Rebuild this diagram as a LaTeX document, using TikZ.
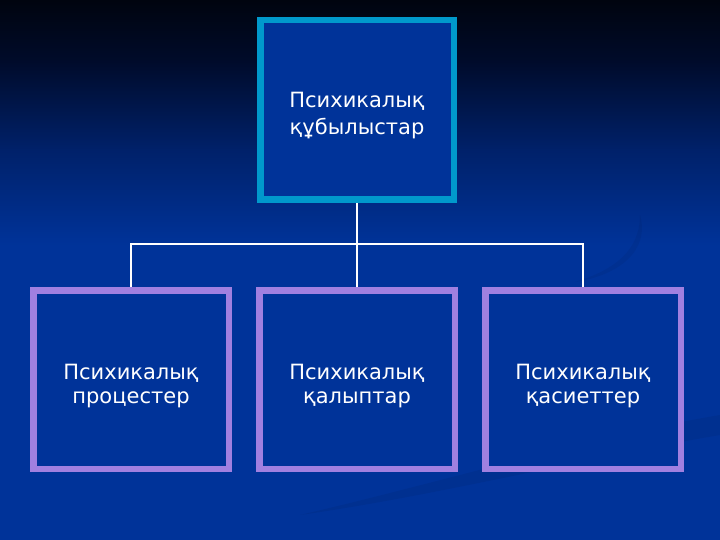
\documentclass[tikz,border=0pt]{standalone}
\usepackage{fontspec}
\setmainfont{DejaVu Sans}
\definecolor{bgA}{HTML}{00040F}
\definecolor{bgB}{HTML}{000B2A}
\definecolor{bgC}{HTML}{00216A}
\definecolor{bgD}{HTML}{003399}
\definecolor{boxfill}{HTML}{003399}
\definecolor{topborder}{HTML}{0099CC}
\definecolor{subborder}{HTML}{A080E0}
\tikzset{
  topbox/.style={draw=topborder, line width=6.5pt, fill=boxfill, minimum width=193.5pt, minimum height=179.5pt, inner sep=0pt, text=white, align=center, font=\fontsize{21}{27}\selectfont},
  subbox/.style={draw=subborder, line width=6.5pt, fill=boxfill, minimum width=195.5pt, minimum height=178.5pt, inner sep=0pt, text=white, align=center, font=\fontsize{21}{24}\selectfont},
  conn/.style={draw=white, line width=1.6pt}
}
\begin{document}
\begin{tikzpicture}[x=1pt,y=-1pt]
\useasboundingbox (0,0) rectangle (720,540);
% background
\fill[bgD] (0,0) rectangle (720,540);
\shade[top color=bgA, bottom color=bgB] (0,0) rectangle (720,60.5);
\shade[top color=bgB, bottom color=bgC] (0,60) rectangle (720,150.5);
\shade[top color=bgC, bottom color=bgD] (0,150) rectangle (720,245);
% faint swooshes
\fill[black, opacity=0.05] (640,215) .. controls (650,250) and (620,275) .. (575,282) .. controls (615,270) and (640,250) .. (640,215) -- cycle;
\fill[black, opacity=0.06] (720,415) .. controls (600,435) and (430,485) .. (300,515) .. controls (440,495) and (600,455) .. (720,435) -- cycle;
% nodes
\node[topbox] (top) at (357,110) {\\[-1pt]Психикалық\\құбылыстар};
\node[subbox] (a) at (131,379.5) {\\[4pt]Психикалық\\процестер};
\node[subbox] (b) at (357,379.5) {\\[4pt]Психикалық\\қалыптар};
\node[subbox] (c) at (583,379.5) {\\[4pt]Психикалық\\қасиеттер};
\coordinate (j) at (357,244);
\draw[conn] (top.south) -- (a.north -| top.south);
\draw[conn] (a.north) |- (j) -| (c.north);
\end{tikzpicture}
\end{document}
